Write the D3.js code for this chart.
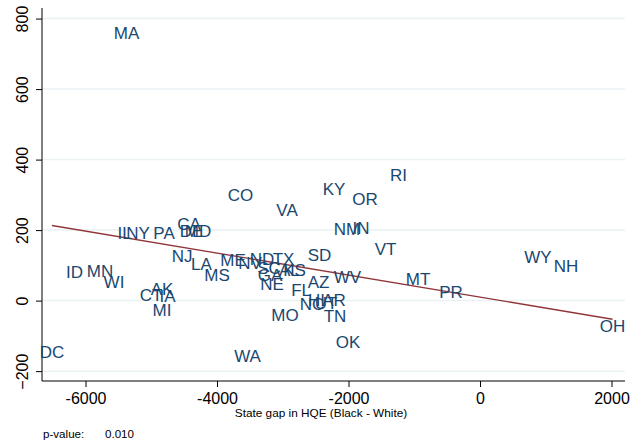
<!DOCTYPE html>
<html>
<head>
<meta charset="utf-8">
<script src="https://cdn.jsdelivr.net/npm/d3@7"></script>
<style>
  body { margin: 0; background: #fff; }
  svg { display: block; font-family: "Liberation Sans", Arial, sans-serif; }
</style>
</head>
<body>
<svg width="639" height="445"></svg>
<script>
// state labels, gap in HQE (x) and outcome (y)
const states = ['MA', 'RI', 'KY', 'OR', 'CO', 'VA', 'NM', 'IN', 'VT', 'SD', 'WY', 'NH', 'MT', 'PR',
  'OH', 'OK', 'WA', 'DC', 'ID', 'MN', 'WI', 'IL', 'NY', 'PA', 'CA', 'DE', 'MD', 'NJ', 'LA', 'MS',
  'AK', 'CT', 'IA', 'MI', 'ME', 'NV', 'ND', 'TX', 'SC', 'GA', 'KS', 'AL', 'NE', 'AZ', 'WV', 'FL',
  'HI', 'AR', 'NC', 'UT', 'TN', 'MO'];
const gapValues = [-5376, -1240, -2221, -1749, -3643, -2935, -2023, -1810, -1437, -2441, 882, 1308, -943, -441,
  2015, -2008, -3536, -6510, -6167, -5779, -5567, -5407, -5202, -4806, -4426, -4388, -4289, -4532, -4236, -4000,
  -4837, -5004, -4753, -4837, -3757, -3498, -3316, -2989, -3209, -3194, -2821, -2900, -3163, -2456, -2015, -2722,
  -2487, -2221, -2555, -2342, -2205, -2966];
const outcomeValues = [759, 356, 316, 288, 299, 257, 203, 206, 146, 129, 123, 98, 61, 24,
  -72, -118, -157, -146, 81, 84, 52, 191, 191, 191, 217, 197, 197, 126, 103, 72,
  33, 16, 13, -27, 115, 107, 118, 118, 92, 72, 86, 88, 47, 52, 67, 30,
  1, 1, -10, -7, -44, -41];

const xTicks = [-6000, -4000, -2000, 0, 2000];
const yTicks = [-200, 0, 200, 400, 600, 800];

// fitted line
const fitIntercept = 10;
const fitSlope = -0.0312;

const pValueText = '0.010';

const plotLeft = 42, plotRight = 625, plotTop = 8, plotBottom = 381;

const svg = d3.select('svg');

const x = d3.scaleLinear().domain([-6662, 2205]).range([plotLeft, plotRight]);
const y = d3.scaleLinear().domain([-228, 830]).range([plotBottom, plotTop]);

// grid lines
svg.append('g')
  .selectAll('line')
  .data(yTicks)
  .enter()
  .append('line')
  .attr('x1', plotLeft)
  .attr('x2', plotRight)
  .attr('y1', (d) => y(d))
  .attr('y2', (d) => y(d))
  .style('stroke', '#eaf2f3')
  .style('stroke-width', 1.5);

// y axis
const yAxis = svg.append('g')
  .attr('transform', `translate(${plotLeft}, 0)`)
  .call(d3.axisLeft(y).tickValues(yTicks).tickSize(6).tickSizeOuter(0));
yAxis.select('.domain').attr('d', `M0,${plotBottom}V${plotTop}`).style('stroke', '#000');
yAxis.selectAll('.tick line').style('stroke', '#000');
yAxis.selectAll('.tick text')
  .attr('x', null).attr('dy', null)
  .attr('transform', 'translate(-14, 0) rotate(-90)')
  .attr('text-anchor', 'middle')
  .style('font-size', '16px')
  .style('fill', '#000')
  .style('font-family', '"Liberation Sans", Arial, sans-serif');

// x axis
const xAxis = svg.append('g')
  .attr('transform', `translate(0, ${plotBottom})`)
  .call(d3.axisBottom(x).tickValues(xTicks).tickSize(6).tickSizeOuter(0));
xAxis.select('.domain').attr('d', `M${plotLeft},0H${plotRight}`).style('stroke', '#000');
xAxis.selectAll('.tick line').style('stroke', '#000');
xAxis.selectAll('.tick text')
  .attr('y', 23).attr('dy', null)
  .style('font-size', '16px')
  .style('fill', '#000')
  .style('font-family', '"Liberation Sans", Arial, sans-serif')
  .text((d) => String(d));

svg.append('text')
  .attr('x', 321)
  .attr('y', 417)
  .attr('text-anchor', 'middle')
  .style('font-size', '11.8px')
  .text('State gap in HQE (Black - White)');

// fit line
const xMin = d3.min(gapValues), xMax = d3.max(gapValues);
svg.append('line')
  .attr('x1', x(xMin))
  .attr('y1', y(fitIntercept + fitSlope * xMin))
  .attr('x2', x(xMax))
  .attr('y2', y(fitIntercept + fitSlope * xMax))
  .style('stroke', '#90353b')
  .style('stroke-width', 1.3);

// state labels centred on the points
svg.append('g')
  .selectAll('text')
  .data(states)
  .enter()
  .append('text')
  .attr('x', (d, i) => x(gapValues[i]))
  .attr('y', (d, i) => y(outcomeValues[i]))
  .attr('dy', '0.35em')
  .attr('text-anchor', 'middle')
  .style('font-size', '17px')
  .style('fill', '#1a476f')
  .text((d) => d);

svg.append('text')
  .attr('x', 43)
  .attr('y', 438)
  .style('font-size', '11.6px')
  .text('p-value:');

svg.append('text')
  .attr('x', 105)
  .attr('y', 438)
  .style('font-size', '11.6px')
  .text(pValueText);
</script>
</body>
</html>
